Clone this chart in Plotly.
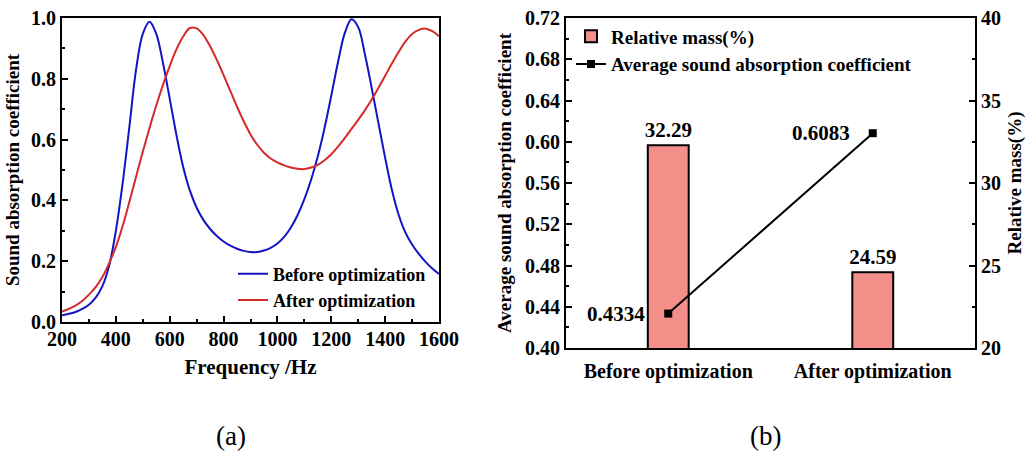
import plotly.graph_objects as go

# ---- (a) absorption spectra ----
freq = [200, 225, 250, 275, 300, 325, 350, 375, 400, 425, 450, 475, 500, 525,
        550, 575, 600, 625, 650, 675, 700, 725, 750, 775, 800, 825, 850, 875,
        900, 925, 950, 975, 1000, 1025, 1050, 1075, 1100, 1125, 1150, 1175,
        1200, 1225, 1250, 1275, 1300, 1325, 1350, 1375, 1400, 1425, 1450,
        1475, 1500, 1525, 1550, 1575, 1600]

alpha_before = [0.022, 0.027, 0.033, 0.043, 0.057, 0.080, 0.118, 0.185,
                0.300, 0.455, 0.640, 0.830, 0.948, 0.988, 0.948, 0.852,
                0.735, 0.615, 0.510, 0.432, 0.376, 0.336, 0.306, 0.283,
                0.265, 0.251, 0.241, 0.234, 0.230, 0.230, 0.235, 0.244,
                0.258, 0.280, 0.311, 0.352, 0.404, 0.468, 0.545, 0.638,
                0.745, 0.855, 0.950, 0.996, 0.970, 0.880, 0.770, 0.655,
                0.540, 0.435, 0.353, 0.295, 0.255, 0.224, 0.198, 0.176,
                0.158]

alpha_after = [0.034, 0.043, 0.054, 0.069, 0.090, 0.115, 0.148, 0.193,
               0.247, 0.315, 0.395, 0.478, 0.560, 0.638, 0.712, 0.780,
               0.842, 0.897, 0.939, 0.967, 0.966, 0.944, 0.907, 0.862,
               0.812, 0.760, 0.708, 0.660, 0.617, 0.583, 0.557, 0.538,
               0.525, 0.515, 0.508, 0.504, 0.503, 0.508, 0.517, 0.532,
               0.552, 0.577, 0.605, 0.635, 0.665, 0.697, 0.732, 0.770,
               0.810, 0.850, 0.888, 0.922, 0.947, 0.961, 0.965, 0.957,
               0.940]

# ---- (b) comparison ----
cases = ["Before optimization", "After optimization"]
relative_mass = [32.29, 24.59]
avg_alpha = [0.4334, 0.6083]

SERIF = "Liberation Serif"
BLUE = "#1414C4"
RED = "#D42A2A"
PINK = "#F48E89"
W, H = 1030, 454


def px_x(p):
    return p / W


def px_y(p):
    return 1 - p / H


def bold(size):
    return dict(family=SERIF, size=size, color="black", weight="bold")


def minor_ticks(step):
    return dict(dtick=step, ticks="inside", ticklen=3, tickcolor="black",
                tickwidth=2)


fig = go.Figure()

fig.add_trace(go.Scatter(
    x=freq, y=alpha_before, mode="lines", name="Before optimization",
    line=dict(color=BLUE, width=2, shape="spline", smoothing=1.0),
    xaxis="x", yaxis="y", legend="legend"))
fig.add_trace(go.Scatter(
    x=freq, y=alpha_after, mode="lines", name="After optimization",
    line=dict(color=RED, width=2, shape="spline", smoothing=1.0),
    xaxis="x", yaxis="y", legend="legend"))

fig.add_trace(go.Bar(
    x=cases, y=relative_mass, name="Relative mass(%)", width=0.2,
    marker=dict(color=PINK, line=dict(color="black", width=2)),
    text=[f"{v:.2f}" for v in relative_mass], textposition="outside",
    outsidetextfont=bold(21), constraintext="none", cliponaxis=False,
    xaxis="x2", yaxis="y2", legend="legend2"))
fig.add_trace(go.Scatter(
    x=cases, y=avg_alpha, mode="lines+markers",
    name="Average sound absorption coefficient",
    line=dict(color="black", width=2),
    marker=dict(symbol="square", size=8, color="black"),
    xaxis="x2", yaxis="y3", legend="legend2"))

for c, v in zip(cases, avg_alpha):
    fig.add_annotation(x=c, y=v, xref="x2", yref="y3", text=f"{v:.4f}",
                       showarrow=False, xanchor="right", xshift=-21,
                       font=bold(21))

axis_common = dict(showline=True, linecolor="black", linewidth=2,
                   ticks="inside", tickcolor="black", tickwidth=2, ticklen=6,
                   showgrid=False, zeroline=False, tickfont=bold(20),
                   automargin=False)

fig.update_layout(
    width=W, height=H, margin=dict(l=0, r=0, t=0, b=0, autoexpand=False),
    paper_bgcolor="white", plot_bgcolor="white",
    font=dict(family=SERIF, color="black"),
    xaxis=dict(domain=[px_x(62), px_x(439)], anchor="y", range=[200, 1600],
               tickvals=[200, 400, 600, 800, 1000, 1200, 1400, 1600],
               minor=minor_ticks(100), mirror=True, ticklabelstandoff=-2,
               title=dict(text="Frequency /Hz", font=bold(21), standoff=10),
               **axis_common),
    yaxis=dict(domain=[px_y(322), px_y(18)], anchor="x", range=[0, 1],
               dtick=0.2, tickformat=".1f", minor=minor_ticks(0.1),
               mirror=True,
               title=dict(text="Sound absorption coefficient", font=bold(19),
                          standoff=6),
               **axis_common),
    xaxis2=dict(domain=[px_x(566), px_x(975)], anchor="y2", type="category",
                range=[-0.5, 1.5], showline=True, linecolor="black",
                linewidth=2, mirror=True, ticks="", showgrid=False,
                tickfont=bold(20), ticklabelstandoff=4, automargin=False),
    yaxis2=dict(domain=[px_y(348), px_y(18)], anchor="x2", side="right",
                range=[20, 40], dtick=5, minor=minor_ticks(2.5),
                title=dict(text="Relative mass(%)", font=bold(19), standoff=8),
                **axis_common),
    yaxis3=dict(domain=[px_y(348), px_y(18)], anchor="x2", overlaying="y2",
                side="left", range=[0.40, 0.72], dtick=0.04,
                tickformat=".2f", minor=minor_ticks(0.02),
                title=dict(text="Average sound absorption coefficient",
                           font=bold(19), standoff=8),
                **axis_common),
    legend=dict(x=px_x(233), y=px_y(255.5), xanchor="left", yanchor="top",
                bgcolor="rgba(0,0,0,0)", font=bold(18)),
    legend2=dict(x=px_x(571), y=px_y(17.5), xanchor="left", yanchor="top",
                 bgcolor="rgba(0,0,0,0)", font=bold(19)),
    showlegend=True,
)

for label, cx in (("(a)", 231), ("(b)", 765)):
    fig.add_annotation(x=px_x(cx), y=px_y(436), xref="paper", yref="paper",
                       xanchor="center", yanchor="middle", text=label,
                       showarrow=False,
                       font=dict(family=SERIF, size=27, color="black"))

fig.write_html("out.html")
